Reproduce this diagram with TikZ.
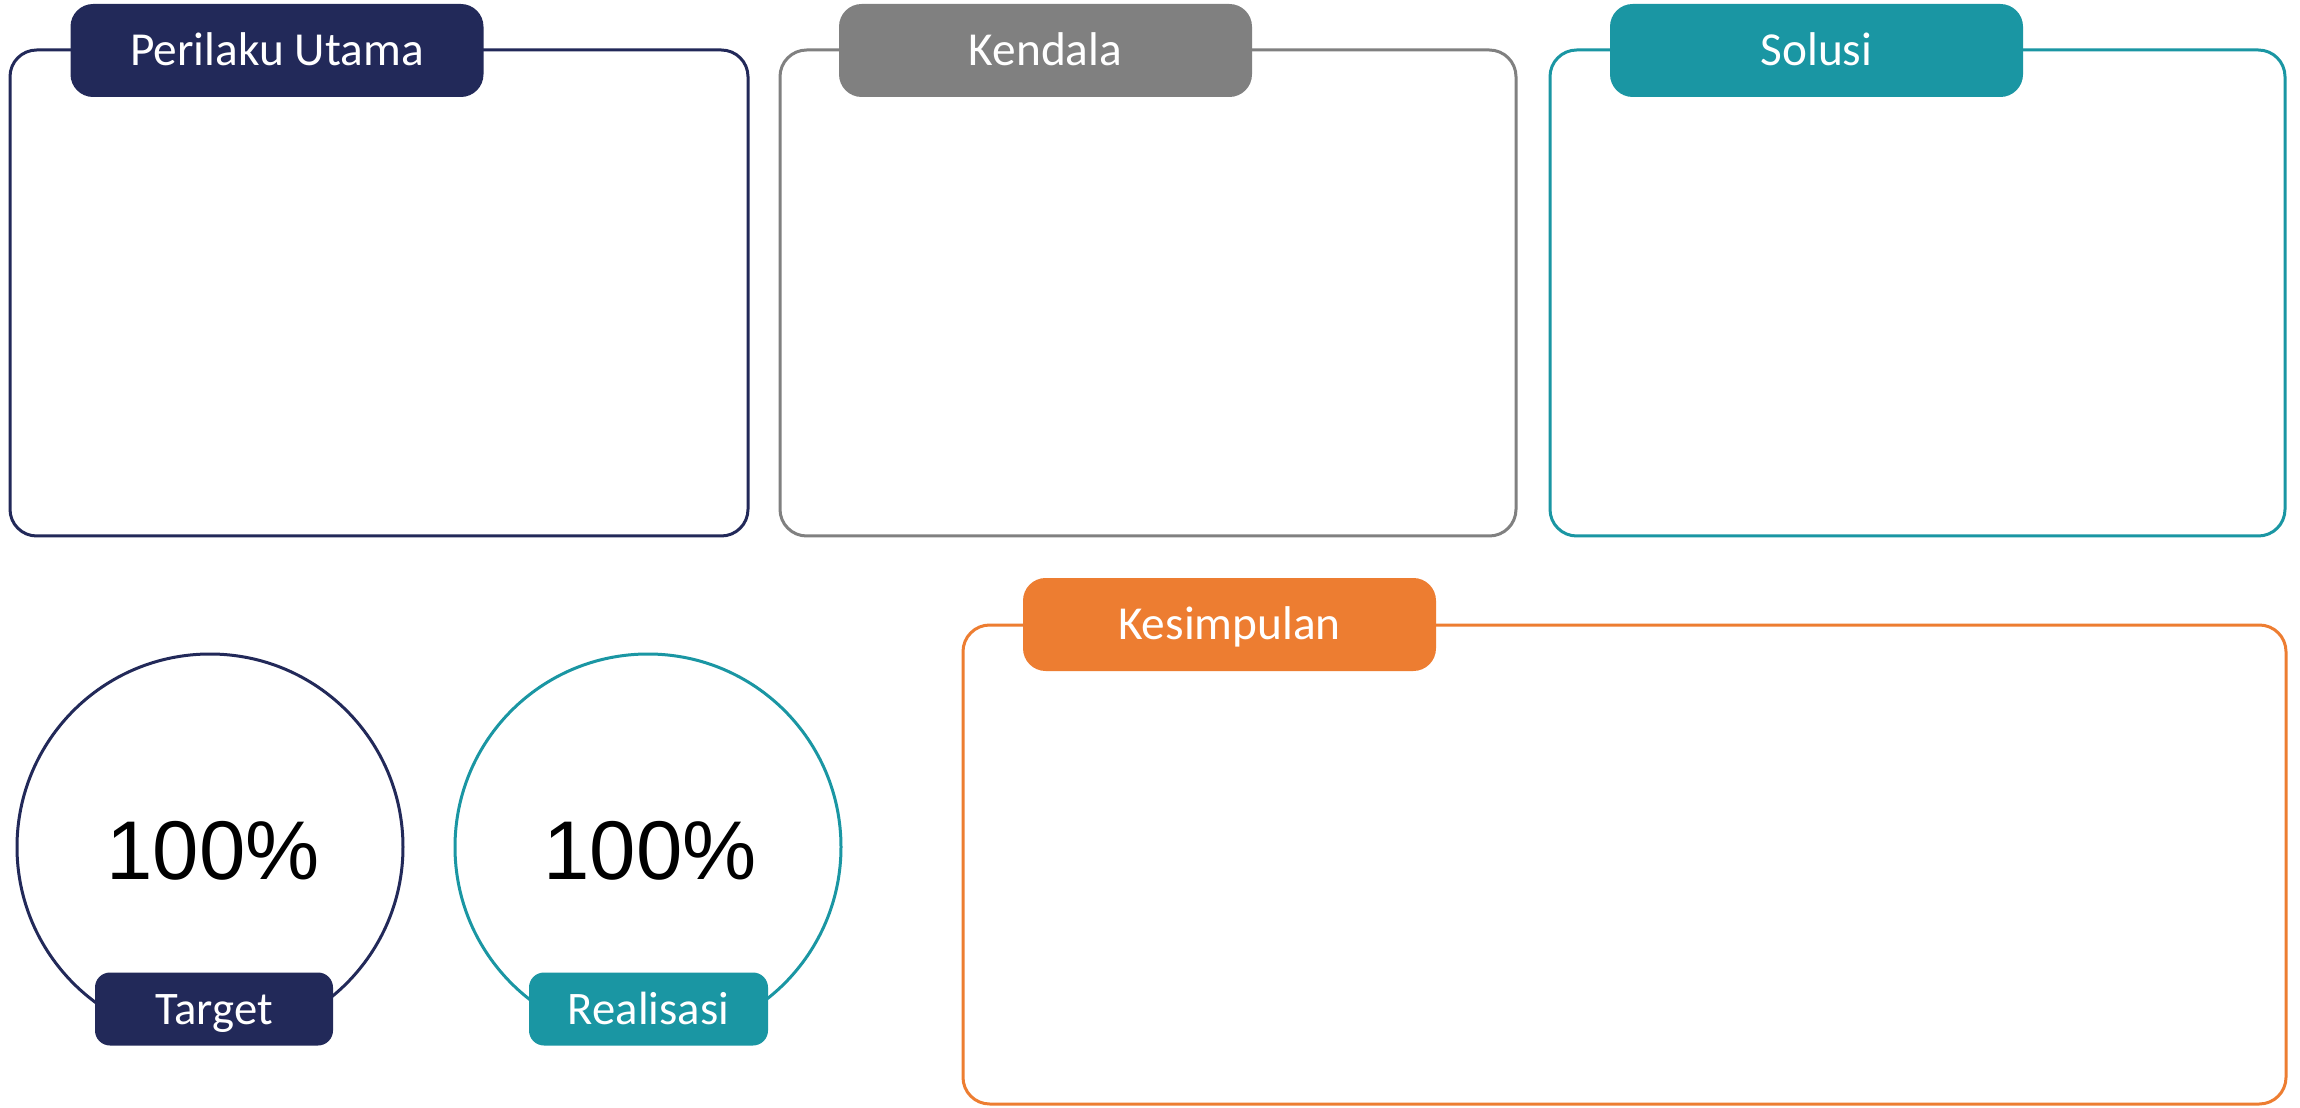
\documentclass[tikz,border=0pt]{standalone}
\usepackage{fontspec}
\setmainfont{Carlito}
\newfontfamily\numfont{Liberation Sans}
\definecolor{navy}{RGB}{34,41,89}
\definecolor{greyc}{RGB}{128,128,128}
\definecolor{teal}{RGB}{26,150,163}
\definecolor{orangec}{RGB}{237,125,49}
\tikzset{
  panel/.style={draw=#1, line width=0.9pt, rounded corners=8pt, fill=white, inner sep=0pt},
  tab/.style={fill=#1, rounded corners=6.8pt, text=white, inner sep=0pt,
    minimum width=413*0.3pt, minimum height=93*0.3pt,
    font=\fontsize{14.2pt}{16pt}\selectfont, text height=9.1pt, text depth=0pt},
  smalltab/.style={fill=#1, rounded corners=4.5pt, text=white, inner sep=0pt,
    minimum width=239*0.3pt, minimum height=73*0.3pt,
    font=\fontsize{14pt}{16pt}\selectfont, text height=9.0pt, text depth=0pt},
  ring/.style={draw=#1, line width=0.9pt, circle, minimum size=386*0.3pt, inner sep=0pt, fill=white},
  pct/.style={font=\numfont\fontsize{25pt}{30pt}\selectfont, text height=17.9pt, text depth=0pt, inner sep=0pt}
}
\begin{document}
\begin{tikzpicture}[x=0.3pt,y=-0.3pt]
\useasboundingbox[fill=white] (0,0) rectangle (2300,1108);
% top panels
\node[panel=navy, minimum width=738*0.3pt, minimum height=486*0.3pt] (p1) at (379,293) {};
\node[tab=navy] (t1) at (277,50.5) {Perilaku Utama};
\node[panel=greyc, minimum width=736*0.3pt, minimum height=486*0.3pt] (p2) at (1148,293) {};
\node[tab=greyc] (t2) at (1045.5,50.5) {Kendala};
\node[panel=teal, minimum width=735*0.3pt, minimum height=486*0.3pt] (p3) at (1917.5,293) {};
\node[tab=teal] (t3) at (1816.5,50.5) {Solusi};
% conclusion panel
\node[panel=orangec, minimum width=1323*0.3pt, minimum height=479*0.3pt] (p4) at (1624.5,864.5) {};
\node[tab=orangec] (t4) at (1229.5,624.5) {Kesimpulan};
% circles
\node[ring=navy] (c1) at (210,847) {};
\node[pct] (v1) at (213,850) {100\%};
\node[smalltab=navy, minimum width=238*0.3pt] (l1) at (214,1009) {Target};
\node[ring=teal] (c2) at (648,847) {};
\node[pct] (v2) at (650,850) {100\%};
\node[smalltab=teal] (l2) at (648.5,1009) {Realisasi};
\end{tikzpicture}
\end{document}
